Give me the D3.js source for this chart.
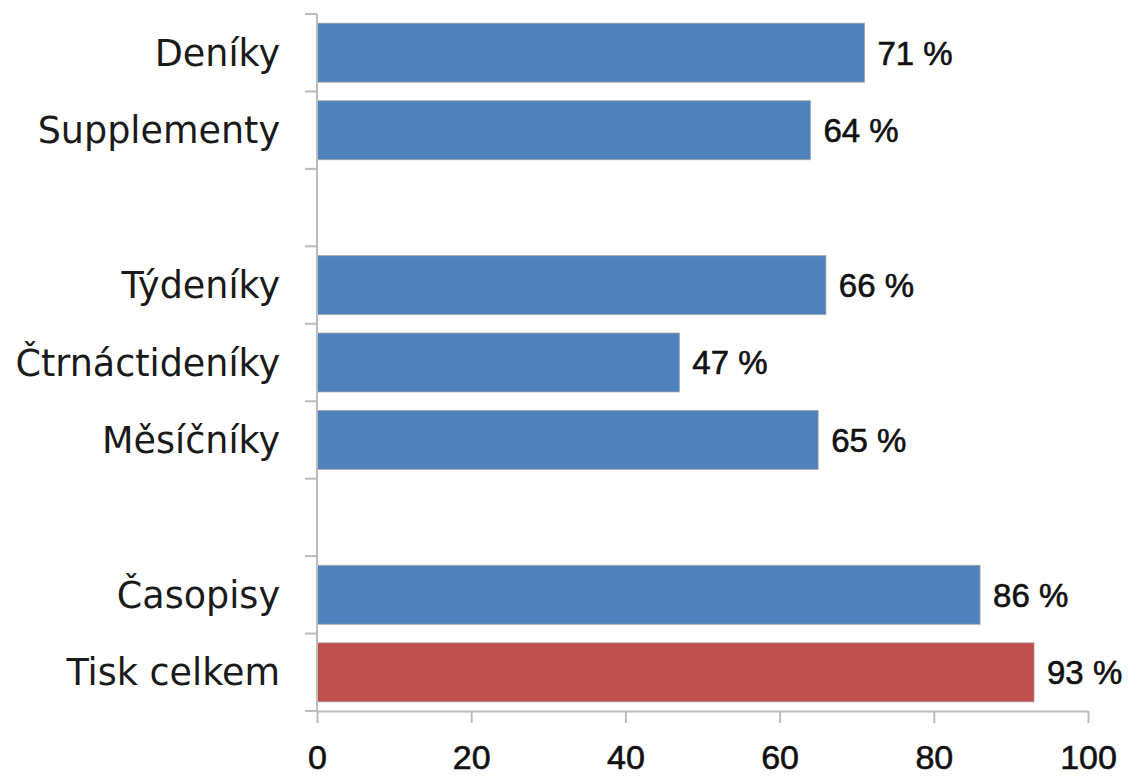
<!DOCTYPE html>
<html>
<head>
<meta charset="utf-8">
<script src="https://cdn.jsdelivr.net/npm/d3@7"></script>
<style>
  html, body { margin: 0; padding: 0; background: #ffffff; }
  svg { display: block; }
</style>
</head>
<body>
<svg id="chart" width="1140" height="776"></svg>
<script>
// Rows from top to bottom; null entries are empty spacer rows between groups.
const categories = ["Deníky", "Supplementy", null, "Týdeníky", "Čtrnáctideníky", "Měsíčníky", null, "Časopisy", "Tisk celkem"];
const values     = [71, 64, null, 66, 47, 65, null, 86, 93];
const xTicks     = [0, 20, 40, 60, 80, 100];
const totalCategory = "Tisk celkem";

const W = 1140, H = 776;
const margin = { top: 14, right: 52, bottom: 65, left: 317 };
const innerW = W - margin.left - margin.right;
const innerH = H - margin.top - margin.bottom;

const svg = d3.select("#chart");
const g = svg.append("g").attr("transform", `translate(${margin.left},${margin.top})`);

const pad = 0.24;
const y = d3.scaleBand()
  .domain(d3.range(categories.length))
  .range([0, innerH])
  .paddingInner(pad)
  .paddingOuter(pad / 2);

const x = d3.scaleLinear().domain([0, 100]).range([0, innerW]);

const axisColor = "#bcbcbc";
const blue = "#4f81bd", red = "#c0504d";

// bars
const rows = categories.map((c, i) => ({ c, v: values[i], i })).filter(d => d.c !== null);

g.selectAll("rect.bar")
  .data(rows)
  .join("rect")
  .attr("class", "bar")
  .attr("x", 0)
  .attr("y", d => y(d.i))
  .attr("width", d => x(d.v))
  .attr("height", y.bandwidth())
  .attr("fill", d => d.c === totalCategory ? red : blue)
  .attr("stroke", "#9a9a9a")
  .attr("stroke-opacity", 0.6)
  .attr("stroke-width", 1.2);

// value labels
g.selectAll("text.val")
  .data(rows)
  .join("text")
  .attr("class", "val")
  .attr("x", d => x(d.v) + 13)
  .attr("y", d => y(d.i) + y.bandwidth() / 2)
  .attr("dy", "0.36em")
  .attr("font-family", "Liberation Sans, Arial, sans-serif")
  .attr("font-size", 33)
  .attr("fill", "#111")
  .attr("stroke", "#111")
  .attr("stroke-width", 0.6)
  .text(d => `${d.v} %`);

// category labels
g.selectAll("text.cat")
  .data(rows)
  .join("text")
  .attr("class", "cat")
  .attr("x", -37)
  .attr("y", d => y(d.i) + y.bandwidth() / 2)
  .attr("dy", "0.36em")
  .attr("text-anchor", "end")
  .attr("font-family", "DejaVu Sans, Verdana, sans-serif")
  .attr("font-size", 36.5)
  .attr("fill", "#1a1a1a")
  .text(d => d.c);

// y axis: line with ticks at band boundaries
const step = y.step();
const boundaries = d3.range(categories.length + 1).map(i => i * step);
g.append("line")
  .attr("x1", 0).attr("x2", 0)
  .attr("y1", 0).attr("y2", innerH)
  .attr("stroke", axisColor).attr("stroke-width", 2);
g.selectAll("line.ytick")
  .data(boundaries)
  .join("line")
  .attr("class", "ytick")
  .attr("x1", -12).attr("x2", 0)
  .attr("y1", d => d).attr("y2", d => d)
  .attr("stroke", axisColor).attr("stroke-width", 2);

// x axis
const xAxis = g.append("g")
  .attr("transform", `translate(0,${innerH})`)
  .call(d3.axisBottom(x).tickValues(xTicks).tickSize(12).tickPadding(22).tickSizeOuter(0));
xAxis.select(".domain").attr("stroke", axisColor).attr("stroke-width", 2);
xAxis.selectAll(".tick line").attr("stroke", axisColor).attr("stroke-width", 2);
xAxis.selectAll(".tick text")
  .attr("font-family", "Liberation Sans, Arial, sans-serif")
  .attr("font-size", 34)
  .attr("fill", "#111")
  .attr("stroke", "#111")
  .attr("stroke-width", 0.6);
</script>
</body>
</html>
